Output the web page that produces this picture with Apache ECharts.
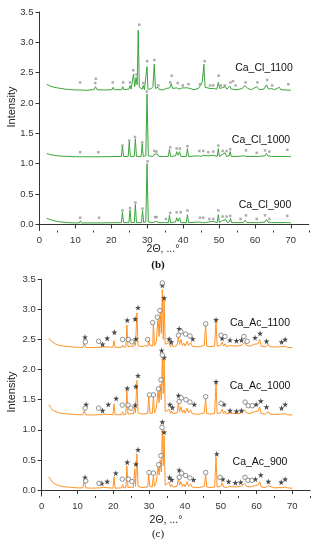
<!DOCTYPE html>
<html><head><meta charset="utf-8">
<script src="https://cdn.jsdelivr.net/npm/echarts@6/dist/echarts.min.js"></script>
<style>html,body{margin:0;padding:0;background:#fff}#c{width:316px;height:550px}</style>
</head><body><div id="c"></div>
<script>
// ---- Tick labels ----
const xTickValues = [0, 10, 20, 30, 40, 50, 60, 70];
const xMinorTickValues = [5, 15, 25, 35, 45, 55, 65, 75];
const yTickValues = [0, 0.5, 1.0, 1.5, 2.0, 2.5, 3.0, 3.5];

// ---- Series labels ----
const clNames = ['Ca_Cl_1100', 'Ca_Cl_1000', 'Ca_Cl_900'];
const acNames = ['Ca_Ac_1100', 'Ca_Ac_1000', 'Ca_Ac_900'];

// ---- Panel (b): Ca_Cl patterns [2θ, intensity] ----
const cl1100 = [[2,2.31],[3,2.28],[4,2.26],[5,2.25],[6,2.24],[7,2.23],[8,2.225],[9,2.22],[10,2.215],[11,2.215],[11.3,2.24],[11.6,2.215],[13,2.21],[15.2,2.22],[15.6,2.27],[16,2.22],[18,2.215],[20.2,2.22],[20.5,2.26],[20.8,2.22],[22.9,2.22],[23.2,2.27],[23.5,2.22],[24.9,2.23],[25.2,2.29],[25.5,2.23],[25.9,2.26],[26.2,2.48],[26.5,2.27],[26.9,2.42],[27.2,2.3],[27.5,3.20],[27.8,2.26],[28.6,2.23],[28.9,2.29],[29.2,2.22],[29.7,2.23],[29.95,2.60],[30.2,2.23],[31.0,2.23],[31.6,2.27],[31.95,2.64],[32.3,2.24],[33.0,2.26],[33.4,2.22],[34.5,2.22],[35.3,2.24],[35.6,2.22],[36.3,2.25],[36.7,2.32],[37.1,2.24],[38.2,2.25],[38.5,2.28],[38.9,2.23],[39.8,2.25],[40.2,2.22],[41.3,2.25],[41.6,2.22],[43,2.22],[44.3,2.24],[44.8,2.26],[45.3,2.34],[45.8,2.64],[46.1,2.26],[46.6,2.23],[47.5,2.24],[48.4,2.24],[49.4,2.23],[49.8,2.34],[50.2,2.24],[50.8,2.25],[51.7,2.27],[52.2,2.23],[53.0,2.28],[53.4,2.23],[55,2.22],[56.5,2.24],[57.2,2.29],[58,2.24],[59,2.22],[60.5,2.27],[61.2,2.22],[62.5,2.23],[63.2,2.30],[63.8,2.23],[64.6,2.24],[65.5,2.22],[66.8,2.26],[67.2,2.22],[70,2.21]];
const cl1000 = [[2,1.17],[3,1.15],[4,1.14],[5,1.13],[6,1.125],[8,1.12],[10,1.115],[11.1,1.115],[11.4,1.14],[11.7,1.115],[16.3,1.115],[16.6,1.13],[16.9,1.115],[22.8,1.12],[23.1,1.29],[23.4,1.12],[24.7,1.12],[25.0,1.36],[25.3,1.12],[26.4,1.12],[26.7,1.41],[27.0,1.12],[28.3,1.12],[28.6,1.33],[28.9,1.12],[29.6,1.13],[29.95,2.15],[30.3,1.13],[31.6,1.12],[32.0,1.16],[32.4,1.14],[32.8,1.16],[33.2,1.12],[34.3,1.12],[34.6,1.15],[34.9,1.12],[35.9,1.12],[36.2,1.24],[36.5,1.12],[37.9,1.13],[38.2,1.2],[38.6,1.14],[39.0,1.2],[39.4,1.12],[40.9,1.12],[41.2,1.25],[41.5,1.12],[44.2,1.13],[44.5,1.16],[45.0,1.12],[45.6,1.14],[46.0,1.12],[46.9,1.13],[47.3,1.12],[48.3,1.14],[48.7,1.12],[49.5,1.12],[49.8,1.25],[50.1,1.12],[50.9,1.15],[51.3,1.13],[51.7,1.18],[52.1,1.12],[52.8,1.13],[53.1,1.2],[53.4,1.12],[55,1.12],[56.8,1.13],[57.3,1.16],[57.8,1.12],[60,1.12],[60.5,1.14],[61,1.12],[62.8,1.13],[63.2,1.17],[63.6,1.13],[64.1,1.15],[64.6,1.12],[68.7,1.12],[69.0,1.14],[69.3,1.12],[70,1.115]];
const cl900 = [[2,0.10],[3,0.08],[4,0.06],[5,0.05],[6,0.04],[8,0.03],[10,0.025],[11.1,0.025],[11.4,0.06],[11.7,0.025],[16.3,0.025],[16.6,0.04],[16.9,0.025],[22.8,0.03],[23.1,0.2],[23.4,0.03],[24.9,0.03],[25.2,0.24],[25.5,0.03],[26.4,0.03],[26.7,0.33],[27.0,0.03],[28.4,0.03],[28.7,0.23],[29.0,0.03],[29.6,0.04],[29.95,1.0],[30.3,0.04],[31.6,0.03],[32.0,0.06],[32.4,0.05],[32.8,0.07],[33.2,0.03],[34.8,0.03],[35.0,0.06],[35.3,0.03],[35.9,0.03],[36.2,0.15],[36.5,0.03],[37.9,0.04],[38.2,0.11],[38.6,0.05],[39.0,0.11],[39.4,0.03],[40.9,0.03],[41.2,0.16],[41.5,0.03],[44.6,0.04],[45.0,0.07],[45.4,0.03],[45.8,0.05],[46.2,0.03],[47.0,0.04],[47.4,0.03],[48.3,0.05],[48.7,0.03],[49.5,0.03],[49.8,0.16],[50.1,0.03],[50.9,0.06],[51.3,0.04],[51.9,0.08],[52.3,0.03],[52.9,0.04],[53.2,0.1],[53.5,0.03],[55,0.03],[56.8,0.03],[57.3,0.07],[57.8,0.03],[60,0.03],[60.5,0.05],[61,0.03],[62.8,0.04],[63.2,0.08],[63.6,0.04],[64.1,0.06],[64.6,0.03],[68.7,0.03],[69.0,0.05],[69.3,0.03],[70,0.025]];

// ---- Panel (b): peak markers ----
const clMarks1100 = [[11.3,2.34],[15.7,2.40],[15.5,2.33],[20.4,2.34],[23.3,2.34],[25.2,2.34],[26.1,2.54],[27.0,2.47],[27.8,3.29],[28.9,2.33],[30.0,2.69],[32.0,2.71],[33.1,2.29],[36.8,2.45],[36.4,2.34],[38.5,2.33],[39.9,2.29],[41.5,2.31],[44.7,2.31],[45.8,2.46],[46.0,2.69],[47.5,2.29],[48.4,2.29],[49.9,2.45],[50.5,2.29],[51.6,2.29],[53.2,2.34],[53.9,2.36],[54.6,2.29],[57.4,2.34],[60.7,2.34],[63.4,2.38],[64.8,2.29],[69.3,2.31]];
const clMarks1000 = [[11.3,1.19],[16.4,1.19],[23.1,1.30],[25.0,1.38],[26.6,1.44],[28.6,1.35],[29.9,2.19],[32.0,1.21],[32.6,1.2],[36.4,1.27],[38.2,1.25],[39.1,1.25],[41.2,1.29],[44.5,1.21],[45.6,1.21],[47.0,1.19],[48.4,1.2],[49.8,1.3],[51.0,1.21],[52.1,1.21],[53.1,1.24],[57.5,1.22],[60.5,1.18],[62.8,1.22],[64.0,1.2],[69.0,1.23]];
const clMarks900 = [[11.3,0.11],[16.6,0.11],[23.1,0.23],[25.2,0.27],[26.7,0.36],[28.7,0.26],[30.1,1.04],[32.2,0.12],[32.6,0.12],[35.2,0.09],[36.4,0.19],[38.2,0.2],[39.3,0.2],[41.2,0.23],[44.7,0.11],[45.6,0.11],[47.3,0.09],[48.4,0.09],[49.8,0.23],[51.0,0.13],[52.1,0.13],[53.1,0.14],[56.0,0.09],[57.5,0.15],[60.5,0.09],[62.8,0.15],[64.0,0.09],[69.0,0.14]];

// ---- Panel (c): Ca_Ac patterns [2θ, intensity] ----
const ac1100 = [[2,2.52],[2.5,2.48],[3,2.45],[4,2.42],[5,2.40],[6,2.39],[7,2.385],[8,2.38],[9,2.375],[10,2.37],[11.5,2.37],[11.9,2.43],[12.3,2.37],[14,2.365],[16,2.37],[16.3,2.39],[16.6,2.37],[17.2,2.38],[17.5,2.37],[19.9,2.37],[20.2,2.48],[20.5,2.37],[22.3,2.37],[22.6,2.41],[22.9,2.37],[23.5,2.38],[23.8,2.74],[24.1,2.38],[25,2.39],[25.6,2.38],[26.0,2.45],[26.2,2.40],[26.6,2.94],[26.9,2.40],[28,2.38],[29.0,2.4],[29.6,2.38],[29.9,2.48],[30.2,2.40],[31.0,2.39],[31.2,2.78],[31.5,2.40],[32.0,2.45],[32.5,2.88],[32.8,2.55],[33.1,2.96],[33.4,2.6],[33.7,3.33],[33.95,2.5],[34.2,3.17],[34.5,2.42],[35.0,2.39],[35.6,2.45],[36.0,2.38],[36.3,2.42],[36.7,2.38],[37.8,2.4],[38.2,2.55],[38.5,2.42],[38.9,2.5],[39.3,2.4],[39.7,2.44],[40.1,2.39],[40.6,2.47],[41.0,2.4],[41.6,2.45],[42.0,2.39],[42.5,2.42],[42.9,2.38],[44,2.38],[45.4,2.4],[45.8,2.75],[46.1,2.39],[47,2.38],[48.3,2.39],[48.7,2.82],[49.0,2.39],[50.0,2.4],[50.4,2.46],[50.8,2.39],[51.2,2.43],[51.6,2.38],[52.5,2.4],[53,2.38],[54,2.39],[54.5,2.38],[55.7,2.4],[56.2,2.38],[56.7,2.45],[57.2,2.4],[57.7,2.43],[58.2,2.39],[59.4,2.42],[59.8,2.39],[60.4,2.43],[60.9,2.5],[61.3,2.39],[62.5,2.38],[63.3,2.42],[63.7,2.38],[65,2.375],[66.8,2.38],[67.1,2.41],[67.4,2.38],[68.0,2.39],[68.3,2.42],[68.6,2.37],[70,2.365]];
const ac1000 = [[2,1.42],[2.5,1.37],[3,1.33],[4,1.3],[5,1.28],[6,1.27],[7,1.265],[8,1.26],[9,1.255],[10,1.25],[11.5,1.25],[11.9,1.32],[12.3,1.25],[14,1.245],[16,1.25],[16.3,1.28],[16.6,1.25],[17.2,1.26],[17.5,1.25],[19.9,1.25],[20.2,1.43],[20.5,1.25],[22.3,1.25],[22.6,1.3],[22.9,1.25],[23.5,1.26],[23.8,1.66],[24.1,1.26],[25,1.27],[25.6,1.26],[26.0,1.38],[26.2,1.28],[26.6,1.82],[26.9,1.28],[28,1.26],[29.6,1.27],[29.9,1.55],[30.2,1.28],[30.9,1.27],[31.2,1.55],[31.5,1.28],[32.0,1.36],[32.5,1.65],[32.8,1.45],[33.1,1.76],[33.4,1.5],[33.7,2.2],[33.95,1.6],[34.2,2.16],[34.5,1.3],[35.0,1.27],[35.6,1.34],[36.0,1.27],[36.3,1.31],[36.7,1.27],[37.8,1.28],[38.2,1.44],[38.5,1.3],[38.9,1.38],[39.3,1.28],[39.7,1.33],[40.1,1.27],[40.6,1.36],[41.0,1.28],[41.6,1.33],[42.0,1.27],[42.5,1.3],[42.9,1.26],[44,1.26],[45.4,1.28],[45.8,1.52],[46.1,1.27],[47,1.26],[48.3,1.27],[48.7,1.78],[49.0,1.27],[50.0,1.28],[50.4,1.34],[50.8,1.27],[51.2,1.31],[51.6,1.26],[52.5,1.28],[53,1.26],[54,1.27],[54.5,1.26],[55.7,1.28],[56.2,1.26],[56.7,1.33],[57.2,1.28],[57.7,1.31],[58.2,1.27],[59.4,1.3],[59.8,1.27],[60.4,1.31],[60.9,1.38],[61.3,1.27],[62.5,1.26],[63.3,1.3],[63.7,1.26],[65,1.255],[66.8,1.26],[67.1,1.29],[67.4,1.26],[68.0,1.27],[68.3,1.3],[68.6,1.25],[70,1.245]];
const ac900 = [[2,0.22],[2.5,0.17],[3,0.13],[4,0.09],[5,0.07],[6,0.055],[7,0.05],[8,0.045],[9,0.04],[10,0.035],[11.5,0.035],[11.9,0.15],[12.3,0.035],[14,0.03],[16,0.035],[16.3,0.06],[16.6,0.035],[17.2,0.045],[17.5,0.03],[19.9,0.03],[20.2,0.22],[20.5,0.03],[22.3,0.035],[22.6,0.09],[22.9,0.035],[23.5,0.04],[23.8,0.4],[24.1,0.04],[25,0.05],[25.6,0.04],[26.0,0.35],[26.2,0.06],[26.6,0.6],[26.9,0.06],[28,0.04],[29.6,0.05],[29.9,0.25],[30.2,0.06],[30.9,0.05],[31.2,0.24],[31.5,0.06],[32.0,0.13],[32.5,0.38],[32.8,0.25],[33.1,0.5],[33.4,0.3],[33.7,1.0],[33.95,0.4],[34.2,0.9],[34.5,0.08],[35.0,0.05],[35.6,0.13],[36.0,0.05],[36.3,0.09],[36.7,0.05],[37.8,0.06],[38.2,0.2],[38.5,0.08],[38.9,0.14],[39.3,0.06],[39.7,0.1],[40.1,0.05],[40.6,0.14],[41.0,0.06],[41.6,0.1],[42.0,0.05],[42.5,0.07],[42.9,0.04],[44,0.04],[45.4,0.06],[45.8,0.25],[46.1,0.05],[47,0.04],[48.3,0.05],[48.7,0.55],[49.0,0.05],[50.0,0.06],[50.4,0.12],[50.8,0.05],[51.2,0.08],[51.6,0.04],[52.5,0.06],[53,0.04],[54,0.05],[54.5,0.04],[55.7,0.06],[56.2,0.04],[56.7,0.11],[57.2,0.06],[57.7,0.08],[58.2,0.05],[59.4,0.07],[59.8,0.05],[60.4,0.08],[60.9,0.14],[61.3,0.05],[62.5,0.04],[63.3,0.07],[63.7,0.04],[65,0.035],[66.8,0.04],[67.1,0.07],[67.4,0.04],[68.0,0.05],[68.3,0.08],[68.6,0.035],[70,0.03]];

// ---- Panel (c): star (★) and circle (○) markers ----
const acStars1100 = [[12.1,2.54],[17.0,2.42],[18.3,2.52],[20.3,2.62],[23.9,2.82],[26.1,2.84],[26.9,3.03],[26.3,2.51],[33.7,3.40],[34.2,3.19],[35.6,2.51],[36.2,2.46],[38.4,2.68],[42.2,2.51],[48.7,2.83],[50.4,2.52],[52.6,2.49],[54.4,2.48],[55.8,2.49],[59.6,2.53],[61.0,2.6],[62.8,2.47],[67.0,2.46],[68.0,2.5]];
const acCircles1100 = [[12.2,2.46],[15.9,2.47],[22.6,2.5],[24.2,2.5],[25.2,2.46],[29.6,2.5],[31.0,2.78],[32.3,2.87],[33.0,2.98],[33.7,3.44],[38.2,2.57],[38.9,2.63],[40.2,2.59],[41.4,2.56],[45.8,2.76],[50.1,2.57],[51.2,2.55],[56.5,2.55],[57.4,2.47]];
const acStars1000 = [[12.4,1.42],[17.0,1.32],[18.6,1.42],[20.8,1.52],[23.9,1.69],[26.3,1.72],[26.9,1.9],[26.1,1.41],[33.5,2.32],[34.2,2.2],[35.8,1.42],[36.5,1.37],[38.2,1.57],[42.6,1.42],[48.7,1.8],[50.9,1.42],[52.6,1.32],[54.4,1.31],[55.8,1.32],[59.9,1.42],[61.2,1.48],[62.8,1.38],[67.0,1.36],[68.0,1.42]];
const acCircles1000 = [[12.1,1.36],[15.9,1.36],[22.5,1.41],[24.1,1.41],[24.9,1.36],[30.1,1.58],[31.2,1.58],[32.6,1.68],[33.3,1.83],[33.7,2.24],[38.4,1.47],[39.0,1.53],[40.3,1.5],[41.4,1.46],[45.8,1.55],[50.1,1.44],[56.8,1.46],[57.7,1.4],[58.8,1.4]];
const acStars900 = [[12.1,0.21],[16.8,0.11],[18.3,0.14],[20.7,0.28],[23.9,0.46],[26.3,0.43],[26.9,0.67],[33.7,1.13],[34.2,0.96],[35.7,0.21],[36.3,0.17],[38.4,0.33],[42.4,0.17],[48.9,0.6],[50.6,0.18],[52.2,0.14],[54.1,0.12],[55.6,0.13],[59.7,0.18],[61.2,0.25],[63.3,0.14],[66.9,0.13],[68.0,0.18]];
const acCircles900 = [[12.3,0.15],[16.0,0.11],[22.5,0.18],[24.2,0.18],[25.2,0.14],[30.0,0.29],[31.2,0.28],[32.7,0.42],[33.3,0.57],[33.6,1.04],[38.4,0.21],[39.1,0.28],[40.2,0.24],[41.4,0.2],[45.8,0.29],[49.8,0.21],[56.8,0.21],[57.6,0.16],[58.7,0.16]];

const GREEN = '#3aa63a', ORANGE = '#ff9326';
const STAR = 'path://M50,0 L61,35 L98,35 L68,57 L79,91 L50,70 L21,91 L32,57 L2,35 L39,35 Z';
const FONT = 'Liberation Sans, Arial, sans-serif';

const chart = echarts.init(document.getElementById('c'), null, {renderer: 'canvas'});

function xAxisPair(gi) {
  return [{
    type: 'value', gridIndex: gi, min: 0, max: 75,
    axisLine: {lineStyle: {color: '#333', width: 1}},
    axisTick: {customValues: xTickValues, length: 4, lineStyle: {color: '#333'}},
    axisLabel: {customValues: xTickValues, color: '#333', fontSize: 9.5, fontFamily: FONT, margin: 5},
    splitLine: {show: false}
  }, {
    type: 'value', gridIndex: gi, min: 0, max: 75, position: 'bottom',
    axisLine: {show: false},
    axisTick: {customValues: xMinorTickValues, length: 2, lineStyle: {color: '#333'}},
    axisLabel: {show: false}, splitLine: {show: false}
  }];
}
function yAxis(gi) {
  return {
    type: 'value', gridIndex: gi, min: -0.1, max: 3.5,
    axisLine: {show: true, lineStyle: {color: '#333', width: 1}},
    axisTick: {show: true, customValues: yTickValues, length: 4, lineStyle: {color: '#333'}},
    axisLabel: {customValues: yTickValues, color: '#333', fontSize: 9.5, fontFamily: FONT, margin: 6,
      formatter: v => v.toFixed(1)},
    splitLine: {show: false}
  };
}
function line(data, xi, yi, color) {
  return {type: 'line', data, xAxisIndex: xi, yAxisIndex: yi, showSymbol: false, symbol: 'none',
    lineStyle: {color, width: 1}, animation: false, z: 2};
}
function marks(data, xi, yi, symbol, size, color, filled) {
  return {type: 'scatter', data, xAxisIndex: xi, yAxisIndex: yi, symbol, symbolSize: size,
    itemStyle: filled ? {color} : {color: '#fff', borderColor: color, borderWidth: 1},
    animation: false, z: 3, silent: true};
}

const labelText = (t, x, y) => ({type: 'text', left: x, top: y,
  style: {text: t, fill: '#111', font: '10.5px ' + FONT, textAlign: 'center', textVerticalAlign: 'middle'}});

chart.setOption({
  animation: false,
  backgroundColor: '#fff',
  grid: [
    {left: 39.5, width: 269.3, top: 12, height: 218.5},
    {left: 41.7, width: 268.5, top: 279.3, height: 216.7}
  ],
  xAxis: [...xAxisPair(0), ...xAxisPair(1)],
  yAxis: [yAxis(0), yAxis(1)],
  series: [
    line(cl1100, 0, 0, GREEN), line(cl1000, 0, 0, GREEN), line(cl900, 0, 0, GREEN),
    marks(clMarks1100, 0, 0, 'rect', 2.5, '#999', true),
    marks(clMarks1000, 0, 0, 'rect', 2.5, '#999', true),
    marks(clMarks900, 0, 0, 'rect', 2.5, '#999', true),
    line(ac1100, 2, 1, ORANGE), line(ac1000, 2, 1, ORANGE), line(ac900, 2, 1, ORANGE),
    marks(acStars1100, 2, 1, STAR, 6, '#1a1a1a', true),
    marks(acStars1000, 2, 1, STAR, 6, '#1a1a1a', true),
    marks(acStars900, 2, 1, STAR, 6, '#1a1a1a', true),
    marks(acCircles1100, 2, 1, 'circle', 4.5, '#777', false),
    marks(acCircles1000, 2, 1, 'circle', 4.5, '#777', false),
    marks(acCircles900, 2, 1, 'circle', 4.5, '#777', false)
  ],
  graphic: [
    {type: 'text', x: 12, y: 107, rotation: Math.PI / 2,
      style: {text: 'Intensity', fill: '#222', font: '11px ' + FONT, textAlign: 'center', textVerticalAlign: 'middle'}},
    {type: 'text', x: 12, y: 392, rotation: Math.PI / 2,
      style: {text: 'Intensity', fill: '#222', font: '11px ' + FONT, textAlign: 'center', textVerticalAlign: 'middle'}},
    {type: 'text', x: 163, y: 249,
      style: {text: '2Θ, ...°', fill: '#222', font: '10.5px ' + FONT, textAlign: 'center', textVerticalAlign: 'middle'}},
    {type: 'text', x: 166, y: 520,
      style: {text: '2Θ, ...°', fill: '#222', font: '10.5px ' + FONT, textAlign: 'center', textVerticalAlign: 'middle'}},
    {type: 'text', x: 158, y: 265,
      style: {text: '(b)', fill: '#111', font: 'bold 11px Liberation Serif, serif', textAlign: 'center', textVerticalAlign: 'middle'}},
    {type: 'text', x: 158, y: 534,
      style: {text: '(c)', fill: '#111', font: '11px Liberation Serif, serif', textAlign: 'center', textVerticalAlign: 'middle'}},
    {type: 'text', x: 264, y: 68, style: {text: clNames[0], fill: '#111', font: '10.5px ' + FONT, textAlign: 'center', textVerticalAlign: 'middle'}},
    {type: 'text', x: 261, y: 140, style: {text: clNames[1], fill: '#111', font: '10.5px ' + FONT, textAlign: 'center', textVerticalAlign: 'middle'}},
    {type: 'text', x: 265, y: 205, style: {text: clNames[2], fill: '#111', font: '10.5px ' + FONT, textAlign: 'center', textVerticalAlign: 'middle'}},
    {type: 'text', x: 260, y: 323, style: {text: acNames[0], fill: '#111', font: '10.5px ' + FONT, textAlign: 'center', textVerticalAlign: 'middle'}},
    {type: 'text', x: 260, y: 386, style: {text: acNames[1], fill: '#111', font: '10.5px ' + FONT, textAlign: 'center', textVerticalAlign: 'middle'}},
    {type: 'text', x: 260, y: 462, style: {text: acNames[2], fill: '#111', font: '10.5px ' + FONT, textAlign: 'center', textVerticalAlign: 'middle'}}
  ]
});
</script>
</body></html>
